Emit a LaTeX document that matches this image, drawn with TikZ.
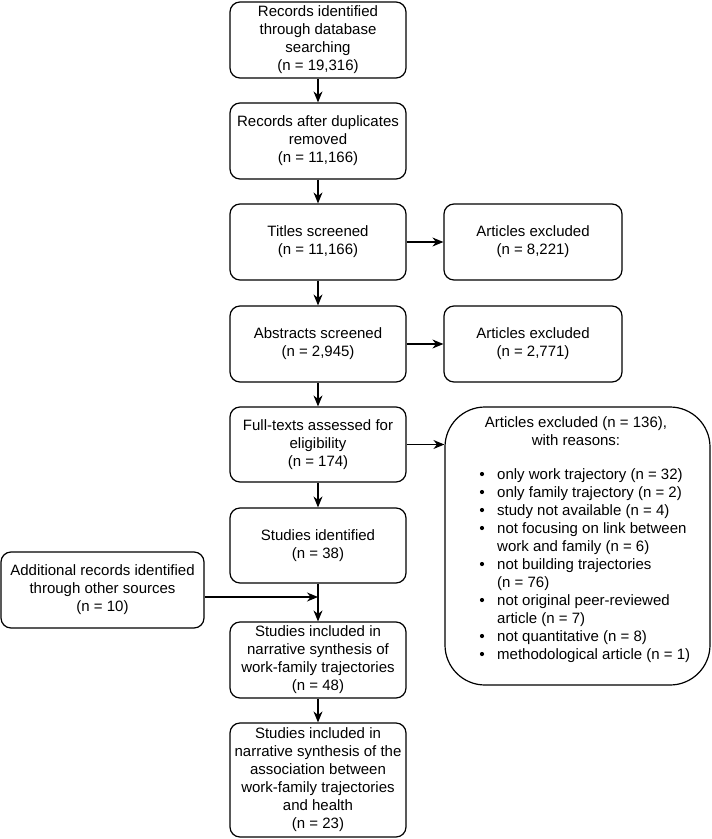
\documentclass[tikz,border=0pt]{standalone}
\usepackage{fontspec}
\setmainfont{Liberation Sans}
\usetikzlibrary{arrows.meta}
\tikzset{
  box/.style={draw=black, line width=1.2pt, rounded corners=10pt, fill=white,
    align=center, inner sep=0pt, minimum height=76pt,
    font=\fontsize{15}{18}\selectfont},
  mainbox/.style={box, minimum width=176pt},
  exbox/.style={box, minimum width=178pt},
  bigbox/.style={draw=black, line width=1.2pt, rounded corners=40pt, fill=white,
    inner sep=0pt, minimum width=265pt, minimum height=278pt},
  txt/.style={inner sep=0pt, font=\fontsize{15}{18}\selectfont},
  line/.style={txt, anchor=base west},
  head/.style={txt, anchor=base},
  arr/.style={draw=black, line width=1.2pt, -{Stealth[length=11pt,width=9pt]}}
}
\begin{document}
\begin{tikzpicture}[x=1pt,y=1pt]
\useasboundingbox (0,0) rectangle (712,-839);
\fill[white] (0,0) rectangle (712,-839);

\node[mainbox] (b1) at (318,-40) {Records identified\\through database\\searching\\(n = 19,316)};
\node[mainbox] (b2) at (318,-141) {Records after duplicates\\removed\\(n = 11,166)};
\node[mainbox] (b3) at (318,-242) {Titles screened\\(n = 11,166)};
\node[mainbox] (b4) at (318,-344) {Abstracts screened\\(n = 2,945)};
\node[mainbox, minimum height=75pt] (b5) at (318,-444.5) {Full-texts assessed for\\eligibility\\(n = 174)};
\node[mainbox, minimum height=75pt] (b6) at (318,-545.5) {Studies identified\\(n = 38)};
\node[mainbox] (b7) at (318,-660) {Studies included in\\narrative synthesis of\\work-family trajectories\\(n = 48)};
\node[mainbox, minimum height=114pt] (b8) at (318,-780) {Studies included in\\narrative synthesis of the\\association between\\work-family trajectories\\and health\\(n = 23)};

\node[box, minimum width=203pt] (add) at (102.5,-590) {Additional records identified\\through other sources\\(n = 10)};

\node[exbox] (e1) at (533,-242) {Articles excluded\\(n = 8,221)};
\node[exbox] (e2) at (533,-344) {Articles excluded\\(n = 2,771)};

\node[bigbox] (e3) at (577.5,-546) {};
\node[head] (h1) at (576,-427) {Articles excluded (n = 136),};
\node[head] (h2) at (576,-445) {with reasons:};

\node[line] (l1)  at (497,-479) {only work trajectory (n = 32)};
\node[line] (l2)  at (497,-497) {only family trajectory (n = 2)};
\node[line] (l3)  at (497,-515) {study not available (n = 4)};
\node[line] (l4)  at (497,-533) {not focusing on link between};
\node[line] (l4b) at (497,-551) {work and family (n = 6)};
\node[line] (l5)  at (497,-569) {not building trajectories};
\node[line] (l5b) at (497,-587) {(n = 76)};
\node[line] (l6)  at (497,-605) {not original peer-reviewed};
\node[line] (l6b) at (497,-623) {article (n = 7)};
\node[line] (l7)  at (497,-641) {not quantitative (n = 8)};
\node[line] (l8)  at (497,-659) {methodological article (n = 1)};

\foreach \l in {l1,l2,l3,l4,l5,l6,l7,l8}
  \fill[black] ([xshift=-15pt,yshift=5pt]\l.base west) circle (2.1pt);

\coordinate (join) at (318,-597);

\draw[arr] (b1.south) -- (b2.north);
\draw[arr] (b2.south) -- (b3.north);
\draw[arr] (b3.south) -- (b4.north);
\draw[arr] (b4.south) -- (b5.north);
\draw[arr] (b5.south) -- (b6.north);
\draw[arr] (b6.south) -- (b7.north);
\draw[arr] (b7.south) -- (b8.north);
\draw[arr] (b3.east) -- (e1.west);
\draw[arr] (b4.east) -- (e2.west);
\draw[arr] (b5.east) -- (b5.east -| e3.west);
\draw[arr] (add.east |- join) -- (join);
\end{tikzpicture}
\end{document}
